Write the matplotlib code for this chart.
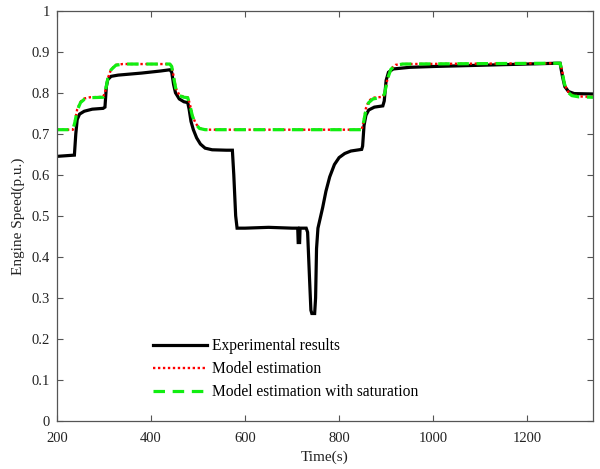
import matplotlib
matplotlib.use("Agg")
import matplotlib.pyplot as plt

# ---------------- data ----------------
exp_t = [200, 237, 240, 243, 248, 258, 275, 298, 302, 305, 308, 315, 330, 380, 420, 440,
         444, 448, 452, 460, 470, 478, 481, 485, 490, 497, 505, 515, 530, 560, 573,
         576, 580, 583, 600, 650, 700, 712, 713, 716, 717, 730, 733, 737, 740, 742,
         748, 750, 752, 755, 757, 760, 765, 772, 780, 790, 800, 812, 825, 848,
         850, 853, 857, 863, 875, 893, 896, 900, 905, 915, 950, 1000, 1100, 1200,
         1265, 1270, 1275, 1280, 1288, 1300, 1340]
exp_v = [0.645, 0.648, 0.70, 0.735, 0.748, 0.755, 0.760, 0.762, 0.765, 0.815, 0.832, 0.840,
         0.843, 0.848, 0.853, 0.856,
         0.850, 0.820, 0.800, 0.785, 0.778, 0.776, 0.760, 0.730, 0.710, 0.690, 0.675,
         0.665, 0.661, 0.660, 0.660,
         0.600, 0.500, 0.470, 0.470, 0.472, 0.470, 0.470, 0.435, 0.435, 0.470, 0.470,
         0.460, 0.350, 0.270, 0.262,
         0.262, 0.300, 0.420, 0.470, 0.480, 0.495, 0.520, 0.560, 0.595, 0.625, 0.642,
         0.652, 0.658, 0.662,
         0.670, 0.720, 0.745, 0.758, 0.765, 0.768, 0.780, 0.830, 0.850, 0.858, 0.862,
         0.864, 0.867, 0.870,
         0.872, 0.872, 0.840, 0.815, 0.803, 0.798, 0.797]

model_t = [200, 234, 238, 243, 250, 258, 270, 298, 302, 308, 315, 325, 340, 440,
           444, 448, 453, 460, 470, 478, 482, 488, 495, 503, 515, 848,
           852, 857, 863, 872, 893, 897, 903, 910, 920, 935, 1270,
           1274, 1279, 1285, 1295, 1310, 1340]
model_v = [0.710, 0.710, 0.730, 0.760, 0.778, 0.786, 0.789, 0.790, 0.800, 0.835, 0.857,
           0.868, 0.870, 0.870,
           0.865, 0.840, 0.810, 0.795, 0.790, 0.789, 0.775, 0.745, 0.725, 0.714, 0.710,
           0.710,
           0.730, 0.762, 0.780, 0.788, 0.790, 0.800, 0.835, 0.858, 0.868, 0.870, 0.872,
           0.855, 0.825, 0.805, 0.795, 0.791, 0.790]

sat_t = model_t
sat_v = [0.710, 0.710, 0.728, 0.757, 0.776, 0.784, 0.788, 0.789, 0.799, 0.834, 0.856,
         0.867, 0.870, 0.870,
         0.864, 0.838, 0.808, 0.793, 0.789, 0.788, 0.773, 0.743, 0.724, 0.713, 0.710,
         0.710,
         0.728, 0.758, 0.776, 0.785, 0.789, 0.799, 0.834, 0.857, 0.867, 0.870, 0.872,
         0.854, 0.823, 0.803, 0.793, 0.790, 0.789]

labels = ["Experimental results", "Model estimation", "Model estimation with saturation"]
x_ticks = [200, 400, 600, 800, 1000, 1200]
y_ticks = [0, 0.1, 0.2, 0.3, 0.4, 0.5, 0.6, 0.7, 0.8, 0.9, 1]
y_ticklabels = ["0", "0.1", "0.2", "0.3", "0.4", "0.5", "0.6", "0.7", "0.8", "0.9", "1"]

# ---------------- plot ----------------
plt.rcParams['font.family'] = ['Liberation Serif', 'DejaVu Serif']
plt.rcParams['mathtext.fontset'] = 'stix'

fig = plt.figure(figsize=(6.0, 4.69), dpi=100)
ax = fig.add_axes([57/600, 1-421/469, (593-57)/600, (421-10.7)/469])

ax.plot(exp_t, exp_v, color='black', lw=2.3, label=labels[0], solid_joinstyle='miter')
ax.plot(model_t, model_v, color='red', lw=1.7, linestyle=(0, (1, 1.1)), label=labels[1])
ax.plot(sat_t, sat_v, color='#11ee11', lw=2.3, linestyle=(0, (3.6, 2.4)), label=labels[2])

ax.set_xlim(200, 1340)
ax.set_ylim(0, 1)
ax.set_xticks(x_ticks)
ax.set_yticks(y_ticks)
ax.set_yticklabels(y_ticklabels)

edge = '#555555'
for s in ax.spines.values():
    s.set_color(edge)
    s.set_linewidth(0.9)
ax.tick_params(direction='in', length=4, width=0.8, colors=edge, labelcolor='#222222',
               labelsize=10.5, top=True, right=True)
ax.tick_params(axis='x', pad=8)
ax.tick_params(axis='y', pad=5)

ax.set_xlabel("Time(s)", fontsize=11, color='#222222', labelpad=4)
ax.set_ylabel("Engine Speed(p.u.)", fontsize=11, color='#222222', labelpad=5)

leg = ax.legend(loc='upper left', bbox_to_anchor=(153/600, 1-338/469),
                bbox_transform=fig.transFigure, frameon=False, fontsize=11.2,
                handlelength=3.5, handletextpad=0.3, labelspacing=0.45,
                borderpad=0, borderaxespad=0)

fig.savefig("out.png", dpi=100)
